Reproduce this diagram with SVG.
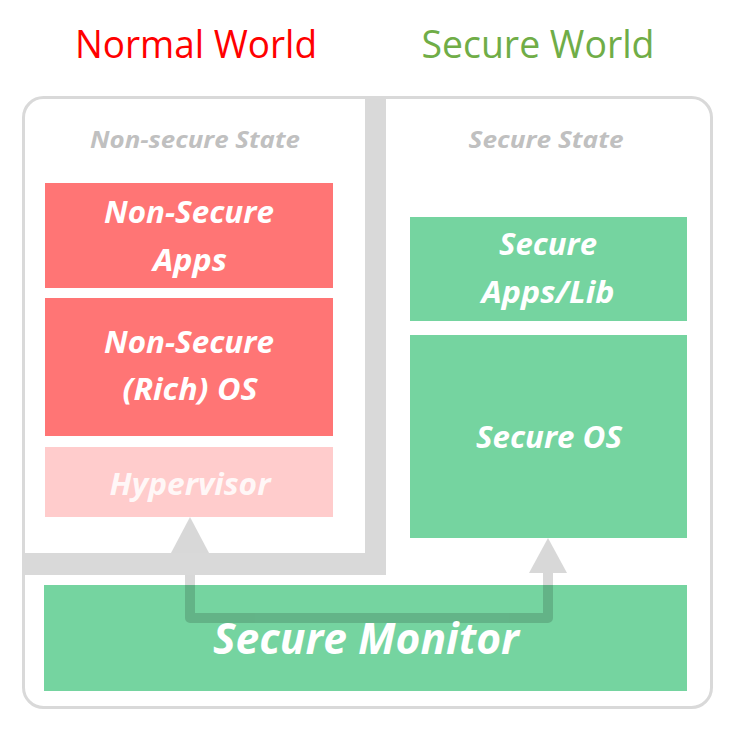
<svg xmlns="http://www.w3.org/2000/svg" width="734" height="736" viewBox="0 0 734 736">
<style>
.title{font-family:"Open Sans","Liberation Sans",sans-serif;font-size:39px;text-anchor:middle}
.state{font-family:"Open Sans","Liberation Sans",sans-serif;font-size:23px;font-weight:bold;font-style:italic;fill:#c0c0c0;text-anchor:middle}
.lbl{font-family:"Open Sans","Liberation Sans",sans-serif;font-size:30px;font-weight:bold;font-style:italic;fill:#ffffff;text-anchor:middle}
.big{font-family:"Open Sans","Liberation Sans",sans-serif;font-size:43px;font-weight:bold;font-style:italic;fill:#ffffff;text-anchor:middle}
.red{fill:#ff7575}
.pink{fill:#ffcccc}
.green{fill:#75d4a0}
</style>
<rect width="734" height="736" fill="#ffffff"/>
<text class="title" x="196" y="58" fill="#ff0000" textLength="242" lengthAdjust="spacingAndGlyphs">Normal World</text>
<text class="title" x="538" y="58" fill="#70ad47" textLength="233" lengthAdjust="spacingAndGlyphs">Secure World</text>
<rect x="23.5" y="97.5" width="688" height="610" rx="20" fill="#ffffff" stroke="#d9d9d9" stroke-width="3"/>
<g id="secure-monitor">
<rect class="green" x="44" y="585" width="643" height="106"/>
</g>
<g id="connectors" opacity="0.15">
<polygon points="190,517 171,553 209,553" fill="#000"/>
<path d="M190,553 V618 H548 V573" fill="none" stroke="#000" stroke-width="10" stroke-linejoin="round"/>
<polygon points="548,538 529,573 567,573" fill="#000"/>
</g>
<g id="secure-monitor-label">
<text class="big" x="366" y="654" textLength="306" lengthAdjust="spacingAndGlyphs">Secure Monitor</text>
</g>
<g id="non-secure-state">
<path d="M365,97 H386 V575 H22 V553 H365 Z" fill="#d9d9d9"/>
<text class="state" x="195" y="148" textLength="210" lengthAdjust="spacingAndGlyphs">Non-secure State</text>
</g>
<g id="secure-state">
<text class="state" x="546" y="148" textLength="155" lengthAdjust="spacingAndGlyphs">Secure State</text>
</g>
<g id="ns-apps">
<rect class="red" x="45" y="183" width="288" height="105"/>
<text class="lbl" x="189" y="223" textLength="170" lengthAdjust="spacingAndGlyphs">Non-Secure</text>
<text class="lbl" x="190" y="271" textLength="74" lengthAdjust="spacingAndGlyphs">Apps</text>
</g>
<g id="ns-os">
<rect class="red" x="45" y="298" width="288" height="138"/>
<text class="lbl" x="189" y="353" textLength="170" lengthAdjust="spacingAndGlyphs">Non-Secure</text>
<text class="lbl" x="190" y="400" textLength="135" lengthAdjust="spacingAndGlyphs">(Rich) OS</text>
</g>
<g id="hypervisor">
<rect class="pink" x="45" y="447" width="288" height="70"/>
<text class="lbl" x="190" y="495" fill-opacity="0.85" textLength="161" lengthAdjust="spacingAndGlyphs">Hypervisor</text>
</g>
<g id="secure-apps">
<rect class="green" x="410" y="217" width="277" height="104"/>
<text class="lbl" x="548" y="255" textLength="98" lengthAdjust="spacingAndGlyphs">Secure</text>
<text class="lbl" x="548" y="303" textLength="133" lengthAdjust="spacingAndGlyphs">Apps/Lib</text>
</g>
<g id="secure-os">
<rect class="green" x="410" y="335" width="277" height="203"/>
<text class="lbl" x="549" y="448" textLength="146" lengthAdjust="spacingAndGlyphs">Secure OS</text>
</g>
</svg>
